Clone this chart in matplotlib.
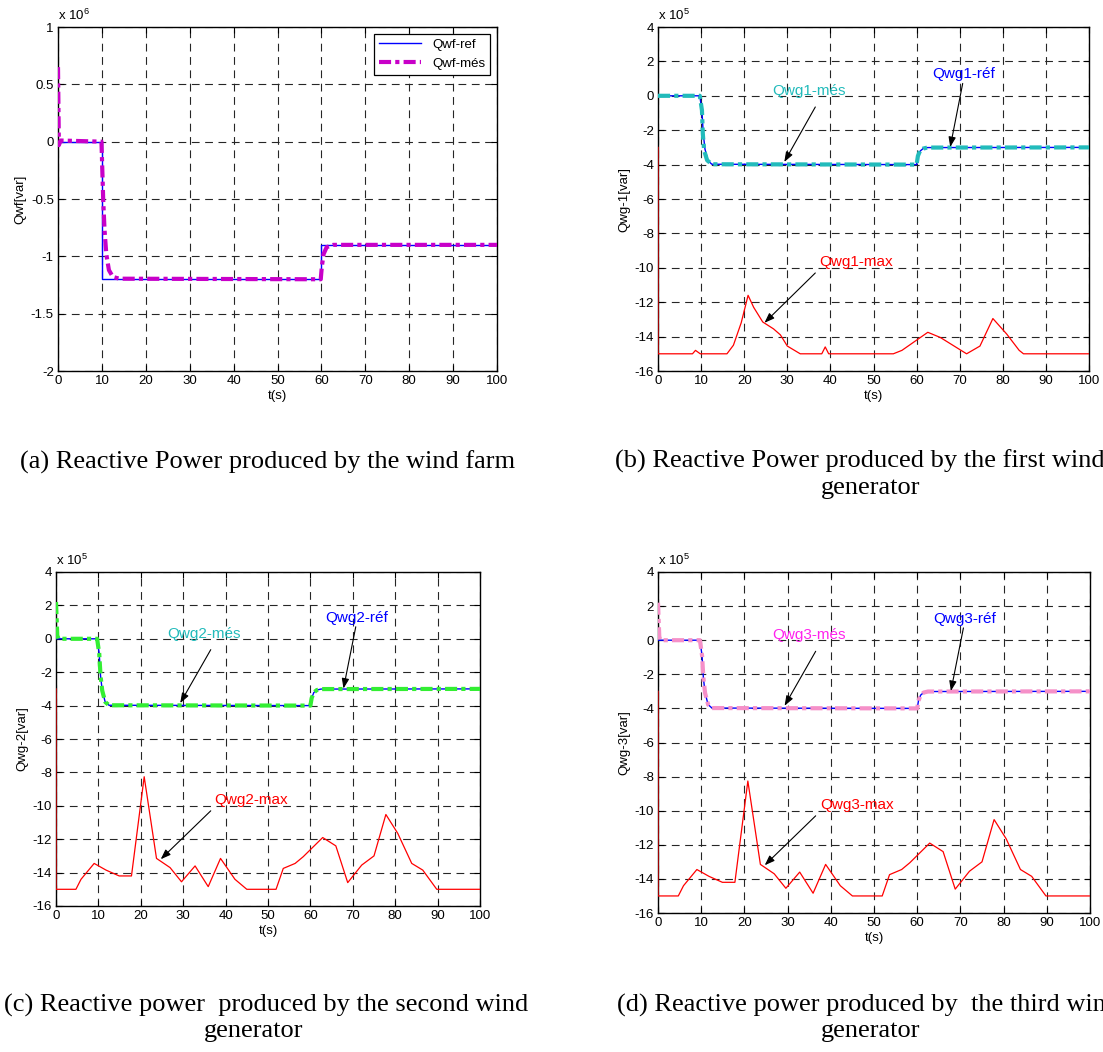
import matplotlib.pyplot as plt
import numpy as np
from matplotlib.ticker import FormatStrFormatter

plt.rc("font", family="Liberation Sans", size=9.5)
plt.rc("axes", unicode_minus=False)
plt.rc("mathtext", fontset="custom", rm="Liberation Sans", it="Liberation Sans")

W, H = 1103, 1052

# (a) wind farm, values in 1e6 var (reference is a hard step at 10 s and 60 s)
qwf_ref_t = [0, 10, 10, 60, 60, 100]
qwf_ref = [0, 0, -1.2, -1.2, -0.9, -0.9]
qwf_mes_t = [0, 0.2, 0.6, 9.9, 10.3, 10.6, 11.0, 11.6, 12.5, 14.0,
             59.85, 60.1, 60.5, 61.2, 62.7, 100]
qwf_mes = [0.65, -0.03, 0.01, 0, -0.51, -0.77, -0.98, -1.12, -1.18, -1.195,
           -1.2, -1.09, -0.98, -0.92, -0.9, -0.9]

# (b)-(d) wind generators, values in 1e5 var
qwg_ref_t = [0, 9.7, 10.2, 10.5, 10.9, 11.6, 12.5, 60, 60.3, 60.8, 61.5, 62.5, 100]
qwg_ref = [0, 0, -0.9, -2.2, -3.1, -3.78, -3.98, -4, -3.55, -3.22, -3.07, -3.01, -3]

qwg1_mes_t = [0, 9.7, 10.2, 10.4, 10.7, 11.4, 12.5, 60, 60.3, 60.8, 61.5, 62.5, 100]
qwg1_mes = [0, 0, -0.85, -2.2, -3.17, -3.75, -3.98, -4, -3.5, -3.2, -3.07, -3.01, -3]

qwg1_max_t = [0, 0, 8, 8.7, 9.8, 16, 17.5, 19.3, 20.9, 22.2, 24.3, 26.8, 28.4,
              30, 33, 38, 38.8, 39.6, 54.6, 56.6, 62.6, 65.5, 71.6, 74.7, 77.7,
              80.9, 83.8, 84.8, 100]
qwg1_max = [-3, -15, -15, -14.8, -15, -15, -14.5, -13.2, -11.6, -12.3, -13.15,
            -13.55, -13.9, -14.55, -15, -15, -14.6, -15, -15, -14.8, -13.75,
            -14.05, -15, -14.55, -12.95, -13.85, -14.8, -15, -15]

qwg2_mes_t = [0, 0.3, 0.6, 9.7, 10.2, 10.5, 10.9, 11.6, 12.5, 60, 60.3, 60.8,
              61.5, 62.5, 100]
qwg2_mes = [2.2, 0.2, 0, 0, -0.9, -2.2, -3.1, -3.78, -3.98, -4, -3.55, -3.22,
            -3.07, -3.01, -3]

qwg2_max_t = [0, 0, 4.7, 5.9, 9, 11.8, 14.9, 17.8, 20.8, 23.7, 26.9, 29.6, 32.8,
              35.9, 38.8, 42.2, 45, 51.9, 53.6, 56.4, 58.3, 62.9, 66, 68.8, 72.1,
              75, 77.8, 80.6, 83.9, 86.5, 89.8, 100]
qwg2_max = [-3, -15, -15, -14.4, -13.45, -13.85, -14.2, -14.2, -8.26, -13.15,
            -13.7, -14.55, -13.6, -14.84, -13.15, -14.4, -15, -15, -13.75,
            -13.45, -13.05, -11.9, -12.4, -14.6, -13.55, -13, -10.52, -11.65,
            -13.45, -13.85, -15, -15]

# third generator reads the same as the second one
qwg3_mes_t = list(qwg2_mes_t)
qwg3_mes = list(qwg2_mes)
qwg3_max_t = list(qwg2_max_t)
qwg3_max = list(qwg2_max)

captions = [
    ("(a) Reactive Power produced by the wind farm", None),
    ("(b) Reactive Power produced by the first wind", "generator"),
    ("(c) Reactive power  produced by the second wind", "generator"),
    ("(d) Reactive power produced by  the third wind", "generator"),
]

MES_DASH = (0, (2.9, 1.0, 1.0, 1.0))
GRID_DASH = (0, (7, 5))


def px_axes(fig, left, top, right, bottom):
    """Axes from pixel box (origin top-left)."""
    return fig.add_axes([left / W, 1 - bottom / H, (right - left) / W, (bottom - top) / H])


def style_axes(ax, ylim, ystep, ylabel, power):
    ax.set_xlim(0, 100)
    ax.set_ylim(*ylim)
    ax.set_xticks(np.arange(0, 101, 10))
    ax.set_yticks(np.arange(ylim[0], ylim[1] + ystep / 2, ystep))
    ax.yaxis.set_major_formatter(FormatStrFormatter("%g"))
    ax.tick_params(direction="in", top=True, right=True, length=4, width=0.8,
                   labelsize=9.5, pad=3)
    ax.grid(True, color="0.15", linestyle=GRID_DASH, linewidth=0.8)
    for s in ax.spines.values():
        s.set_linewidth(1.0)
    ax.set_xlabel("t(s)", fontsize=9.5, labelpad=2)
    ax.set_ylabel(ylabel, fontsize=9.5, labelpad=3)
    ax.text(0, 1.012, "x 10$^{%d}$" % power, transform=ax.transAxes,
            fontsize=9.5, ha="left", va="bottom")


def annotate(ax, text, color, xy_text, tail, head):
    ax.text(*xy_text, text, color=color, fontsize=11, ha="center", va="center", zorder=6)
    ax.annotate("", xy=head, xytext=tail, zorder=6,
                arrowprops=dict(arrowstyle="-|>,head_length=0.6,head_width=0.22",
                                color="k", lw=0.8, shrinkA=0, shrinkB=0,
                                mutation_scale=10))


def gen_panel(ax, n, mes_t, mes, mes_color, text_color, max_t, maxv):
    ax.plot(qwg_ref_t, qwg_ref, color="#0000FF", lw=1.0, zorder=3)
    ax.plot(mes_t, mes, color=mes_color, lw=3.0, linestyle=MES_DASH, zorder=4)
    ax.plot(max_t, maxv, color="#FF0000", lw=0.9, zorder=3)
    style_axes(ax, (-16, 4), 2, "Qwg-%d[var]" % n, 5)
    annotate(ax, "Qwg%d-més" % n, text_color, (35, 0.3), (36.5, -0.65), (29.3, -3.85))
    annotate(ax, "Qwg%d-réf" % n, "#0000FF", (71, 1.25), (70.7, 0.72), (67.8, -2.98))
    annotate(ax, "Qwg%d-max" % n, "#FF0000", (46, -9.66), (36.5, -10.3), (24.7, -13.2))


fig = plt.figure(figsize=(W / 100, H / 100), dpi=100)

# (a)
ax_a = px_axes(fig, 58, 27, 497, 371)
ax_a.plot(qwf_ref_t, qwf_ref, color="#0000FF", lw=1.0, label="Qwf-ref", zorder=3)
ax_a.plot(qwf_mes_t, qwf_mes, color="#C800C8", lw=3.0, linestyle=MES_DASH,
          label="Qwf-més", zorder=4)
style_axes(ax_a, (-2, 1), 0.5, "Qwf[var]", 6)
leg = ax_a.legend(loc="upper right", fontsize=9.5, handlelength=3.2, fancybox=False,
                  framealpha=1, edgecolor="k", borderaxespad=0.5)
leg.get_frame().set_linewidth(0.9)

# (b)
ax_b = px_axes(fig, 658, 27, 1089, 371)
gen_panel(ax_b, 1, qwg1_mes_t, qwg1_mes, "#22BBBB", "#22BBBB", qwg1_max_t, qwg1_max)

# (c)
ax_c = px_axes(fig, 56, 572, 480, 906)
gen_panel(ax_c, 2, qwg2_mes_t, qwg2_mes, "#33EE33", "#22BBBB", qwg2_max_t, qwg2_max)

# (d)
ax_d = px_axes(fig, 658, 572, 1090, 913)
gen_panel(ax_d, 3, qwg3_mes_t, qwg3_mes, "#F590C8", "#FF22EE", qwg3_max_t, qwg3_max)

# captions (the right-hand first lines run past the page edge, as in the source)
cap_kw = dict(family="Liberation Serif", fontsize=19, va="center")
cap_pos = [((20, 462), None), ((615, 461), (871, 488)),
           ((4, 1005), (254, 1031)), ((617, 1005), (871, 1031))]
for (l1, l2), (p1, p2) in zip(captions, cap_pos):
    fig.text(p1[0] / W, 1 - p1[1] / H, l1, ha="left", **cap_kw)
    if l2:
        fig.text(p2[0] / W, 1 - p2[1] / H, l2, ha="center", **cap_kw)

fig.savefig("out.png", dpi=100, facecolor="white")
